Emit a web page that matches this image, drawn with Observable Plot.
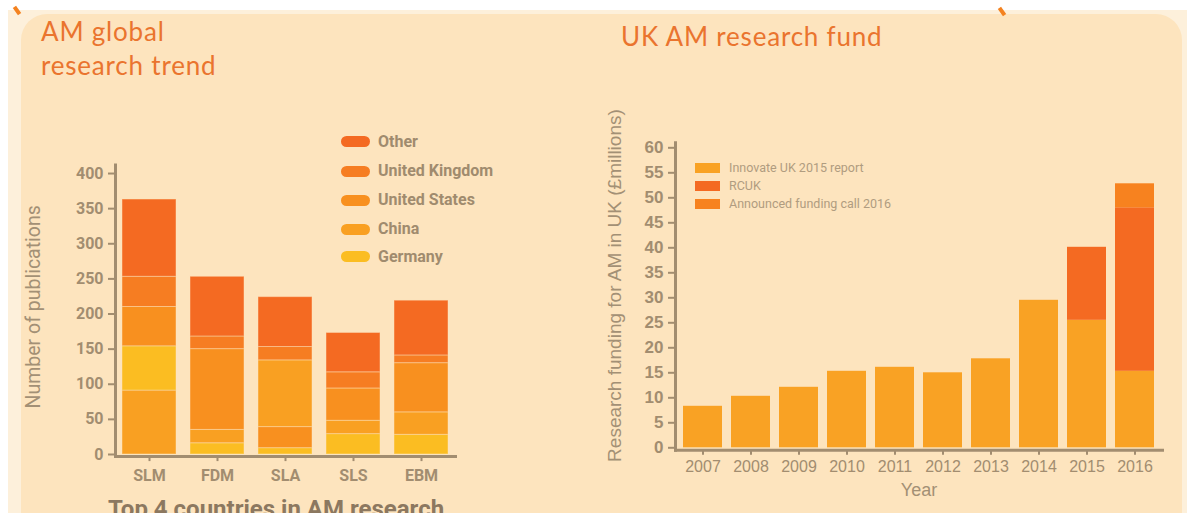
<!DOCTYPE html>
<html><head><meta charset="utf-8">
<script src="https://cdn.jsdelivr.net/npm/d3@7"></script>
<script src="https://cdn.jsdelivr.net/npm/@observablehq/plot@0.6"></script>
<style>
html,body{margin:0;padding:0;width:1187px;height:513px;overflow:hidden;background:#fff;}
#outer{position:absolute;left:8px;top:10px;width:1179px;height:510px;background:#fdf0db;}
#panel{position:absolute;left:21px;top:14px;width:1161px;height:530px;background:#fde4be;border-radius:26px;}
.title{position:absolute;font-family:Lato,sans-serif;color:#ea742e;font-size:26px;line-height:34px;letter-spacing:0.8px;white-space:nowrap;}
.chart{position:absolute;}
.lg1{position:absolute;font-family:Roboto,sans-serif;font-weight:700;font-size:16px;color:#a08b6e;white-space:nowrap;line-height:20px;}
.pill{position:absolute;width:29px;height:11px;border-radius:6px;}
.lg2{position:absolute;font-family:Roboto,sans-serif;font-size:12.5px;color:#b09c80;white-space:nowrap;line-height:16px;}
.sw{position:absolute;width:25px;height:10px;}
.mark{position:absolute;width:4px;height:9px;background:#f4821f;transform:rotate(-35deg);}
#caption{position:absolute;left:108px;top:495px;font-family:Roboto,sans-serif;font-weight:700;font-size:24px;color:#8c7860;white-space:nowrap;}
</style>
</head><body>
<div id="outer"></div>
<div id="panel"></div>
<div class="mark" style="left:15px;top:6px;"></div>
<div class="mark" style="left:1000px;top:7px;"></div>
<div class="title" style="left:41px;top:14px;">AM global<br>research trend</div>
<div class="title" style="left:621px;top:19px;">UK AM research fund</div>
<div id="left" class="chart" style="left:0px;top:130px;"></div>
<div id="right" class="chart" style="left:580px;top:120px;"></div>
<div id="legend1"></div>
<div id="legend2"></div>
<div id="caption">Top 4 countries in AM research</div>
<script>
// ---- Left chart data: AM global research trend ----
const techs = ["SLM", "FDM", "SLA", "SLS", "EBM"];
const countries = ["Other", "United Kingdom", "United States", "China", "Germany"];
const otherVals   = [110, 85, 71, 56, 78];
const ukVals      = [43, 18, 19, 23, 11];
const usVals      = [56, 115, 30, 46, 70];
const chinaVals   = [91, 19, 95, 19, 32];
const germanyVals = [63, 16, 9, 29, 28];
// stacking order, bottom to top, for each technology
const stackOrder = [
  ["China", "Germany", "United States", "United Kingdom", "Other"],
  ["Germany", "China", "United States", "United Kingdom", "Other"],
  ["Germany", "United States", "China", "United Kingdom", "Other"],
  ["Germany", "China", "United States", "United Kingdom", "Other"],
  ["Germany", "China", "United States", "United Kingdom", "Other"]
];
const countryColors = ["#f46a22", "#f67d22", "#f8901f", "#f9a022", "#fbbd22"];

// ---- Right chart data: UK AM research fund ----
const years = ["2007","2008","2009","2010","2011","2012","2013","2014","2015","2016"];
const fundSeries = ["Innovate UK 2015 report", "RCUK", "Announced funding call 2016"];
const innovateVals  = [8.3, 10.3, 12.1, 15.3, 16.1, 15.0, 17.8, 29.5, 25.5, 15.3];
const rcukVals      = [0, 0, 0, 0, 0, 0, 0, 0, 14.6, 32.7];
const announcedVals = [0, 0, 0, 0, 0, 0, 0, 0, 0, 4.8];
const fundColors = ["#f9a224", "#f46a22", "#f7821f"];

const axisColor = "#a28d70";

// build left rows
const byCountry = {"Other": otherVals, "United Kingdom": ukVals, "United States": usVals, "China": chinaVals, "Germany": germanyVals};
const leftRows = [];
techs.forEach((t, i) => {
  stackOrder[i].forEach((c, r) => leftRows.push({tech: t, country: c, rank: r, value: byCountry[c][i]}));
});

const left = Plot.plot({
  width: 470, height: 370,
  marginLeft: 115, marginRight: 15, marginTop: 34.6, marginBottom: 43.9,
  style: {background: "transparent", fontFamily: "Roboto, sans-serif", overflow: "visible"},
  x: {domain: techs, paddingInner: 0.2, paddingOuter: 0.1, axis: null},
  y: {domain: [-3, 412], axis: null},
  color: {domain: countries, range: countryColors},
  marks: [
    Plot.barY(leftRows, Plot.stackY({x: "tech", y: "value", z: "rank", fill: "country", order: null,
      stroke: "#fde4be", strokeOpacity: 0.45, strokeWidth: 1})),
    Plot.axisY({ticks: d3.range(0, 401, 50), tickSize: 7, tickPadding: 5, fontSize: 16, fontWeight: "bold",
      color: axisColor, strokeWidth: 2, label: null}),
    Plot.axisX({tickSize: 5, tickPadding: 8, fontSize: 16, fontWeight: "bold", color: axisColor, strokeWidth: 2, label: null}),
    Plot.frame({anchor: "left", stroke: axisColor, strokeWidth: 3}),
    Plot.frame({anchor: "bottom", stroke: axisColor, strokeWidth: 3}),
    Plot.text(["Number of publications"], {frameAnchor: "left", textAnchor: "middle", rotate: -90, dx: -82, dy: -4,
      fontSize: 19.5, fill: "#a39075"})
  ]
});
document.getElementById("left").appendChild(left);

// build right rows
const fundByName = {"Innovate UK 2015 report": innovateVals, "RCUK": rcukVals, "Announced funding call 2016": announcedVals};
const rightRows = [];
years.forEach((y, i) => fundSeries.forEach(s => rightRows.push({year: y, series: s, value: fundByName[s][i]})));

const right = Plot.plot({
  width: 600, height: 393,
  marginLeft: 95, marginRight: 18, marginTop: 22.3, marginBottom: 63.2,
  style: {background: "transparent", fontFamily: "Liberation Sans, Arial, sans-serif", overflow: "visible"},
  x: {domain: years, paddingInner: 0.18, paddingOuter: 0.13, axis: null},
  y: {domain: [-0.5, 61], axis: null},
  color: {domain: fundSeries, range: fundColors},
  marks: [
    Plot.barY(rightRows.filter(d => d.value > 0), Plot.stackY({x: "year", y: "value", fill: "series", order: fundSeries})),
    Plot.axisY({ticks: d3.range(0, 61, 5), tickSize: 7, tickPadding: 5, fontSize: 17, fontWeight: "bold",
      color: axisColor, strokeWidth: 2, label: null}),
    Plot.axisX({tickSize: 5, tickPadding: 5, fontSize: 16, color: axisColor, strokeWidth: 2, label: null}),
    Plot.frame({anchor: "left", stroke: axisColor, strokeWidth: 3}),
    Plot.frame({anchor: "bottom", stroke: axisColor, strokeWidth: 3}),
    Plot.text(["Research funding for AM in UK (£millions)"], {frameAnchor: "left", textAnchor: "middle", rotate: -90, dx: -61, dy: -11,
      fontSize: 19, fill: "#a39075"}),
    Plot.text(["Year"], {frameAnchor: "bottom", dy: 46, fontSize: 18, fill: "#a39075"})
  ]
});
document.getElementById("right").appendChild(right);

// legends
const lg1 = document.getElementById("legend1");
const lgY1 = [141.7, 171, 200, 229, 256.7];
countries.forEach((c, i) => {
  const p = document.createElement("div");
  p.className = "pill"; p.style.left = "341px"; p.style.top = (lgY1[i] - 5.5) + "px"; p.style.background = countryColors[i];
  lg1.appendChild(p);
  const t = document.createElement("div");
  t.className = "lg1"; t.style.left = "378px"; t.style.top = (lgY1[i] - 10) + "px"; t.textContent = c;
  lg1.appendChild(t);
});
const lg2 = document.getElementById("legend2");
const lgY2 = [168.3, 186, 204];
fundSeries.forEach((s, i) => {
  const r = document.createElement("div");
  r.className = "sw"; r.style.left = "695px"; r.style.top = (lgY2[i] - 5) + "px"; r.style.background = fundColors[i];
  lg2.appendChild(r);
  const t = document.createElement("div");
  t.className = "lg2"; t.style.left = "729px"; t.style.top = (lgY2[i] - 8) + "px"; t.textContent = s;
  lg2.appendChild(t);
});
</script>
</body></html>
